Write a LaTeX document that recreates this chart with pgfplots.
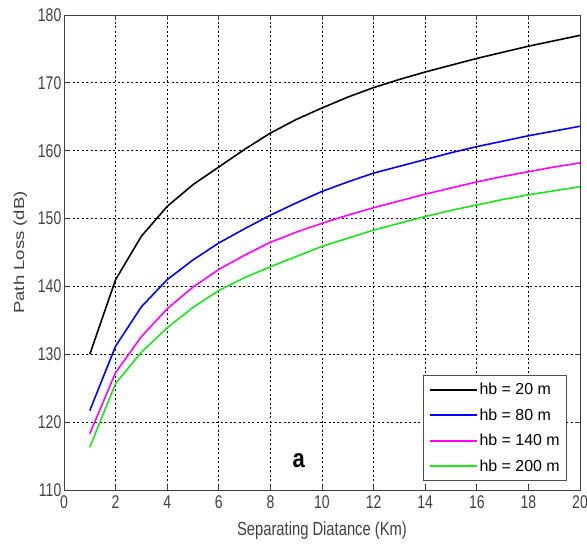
\documentclass[border=0pt]{standalone}
\usepackage{fontspec}
\setmainfont{Liberation Sans}
\usepackage{pgfplots}
\pgfplotsset{compat=1.18}
\definecolor{mg}{rgb}{1,0,1}
\definecolor{gr}{rgb}{0.1,0.9,0.1}
\begin{document}
\begin{tikzpicture}
\begin{axis}[
  scale only axis, width=516bp, height=475bp,
  xmin=0, xmax=20, ymin=110, ymax=180,
  xtick={0,2,...,20}, ytick={110,120,...,180},
  grid=major,
  major grid style={black, dash pattern=on 2pt off 2.5pt, line width=0.7pt},
  axis line style={black!75, line width=0.9pt},
  tick style={black!75, line width=0.8pt},
  tick align=inside, major tick length=5bp,
  /pgf/number format/assume math mode=true,
  ticklabel style={font=\fontsize{18.5}{20}\selectfont, text=black!75, xscale=0.76},
  xticklabel style={yshift=-2bp},
  xlabel={Separating Diatance (Km)}, ylabel={Path Loss (dB)},
  xlabel style={font=\fontsize{19}{21}\selectfont, text=black!75, xscale=0.78, yshift=-6bp},
  ylabel style={font=\fontsize{18.6}{21}\selectfont, text=black!75, yscale=0.78, yshift=7bp},
  legend style={at={(axis cs:19.5,111.3)}, anchor=south east, draw=black!70, line width=0.8pt,
    font=\fontsize{16}{18}\selectfont, row sep=8.5pt, inner xsep=5pt, inner ysep=6pt},
  legend cell align=left,
  legend image code/.code={\draw[#1, line width=1.8pt] (0bp,0bp) -- (47bp,0bp);},
]
\addplot[black, line width=1.6pt] coordinates {(1,130) (2,141) (3,147.4) (4,151.8) (5,155) (6,157.6) (7,160.2) (8,162.6) (9,164.6) (10,166.3) (11,167.9) (12,169.3) (13,170.5) (14,171.6) (15,172.6) (16,173.6) (17,174.5) (18,175.4) (19,176.2) (20,177)};
\addlegendentry{hb = 20 m}
\addplot[blue, line width=1.6pt] coordinates {(1,121.7) (2,131.2) (3,137) (4,141) (5,143.9) (6,146.4) (7,148.5) (8,150.5) (9,152.3) (10,154) (11,155.4) (12,156.7) (13,157.7) (14,158.7) (15,159.7) (16,160.6) (17,161.4) (18,162.2) (19,162.9) (20,163.6)};
\addlegendentry{hb = 80 m}
\addplot[mg, line width=1.6pt] coordinates {(1,118.3) (2,127.3) (3,132.6) (4,136.7) (5,139.9) (6,142.5) (7,144.6) (8,146.5) (9,148) (10,149.3) (11,150.5) (12,151.6) (13,152.6) (14,153.6) (15,154.5) (16,155.4) (17,156.2) (18,156.9) (19,157.6) (20,158.2)};
\addlegendentry{hb = 140 m}
\addplot[gr, line width=1.6pt] coordinates {(1,116.3) (2,125.7) (3,130.3) (4,133.9) (5,136.9) (6,139.4) (7,141.3) (8,142.9) (9,144.4) (10,145.9) (11,147.1) (12,148.3) (13,149.3) (14,150.3) (15,151.2) (16,152) (17,152.8) (18,153.5) (19,154.1) (20,154.7)};
\addlegendentry{hb = 200 m}
\node[font=\bfseries\fontsize{26}{28}\selectfont, xscale=0.85] at (axis cs:9.1,114.3) {a};
\end{axis}
\pgfresetboundingbox
\path[use as bounding box] (current axis.south west) ++(-64bp,-55bp) rectangle ([shift={(7bp,15bp)}]current axis.north east);
\end{tikzpicture}
\end{document}
